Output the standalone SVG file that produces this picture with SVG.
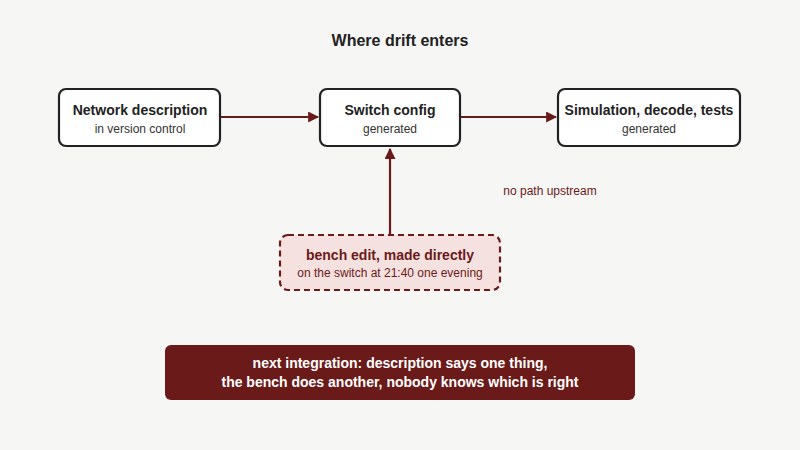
<svg xmlns="http://www.w3.org/2000/svg" width="800" height="450" viewBox="0 0 800 450">
<style>
.n{fill:#fff;stroke:#222;stroke-width:2.2}
.t{font-family:"Liberation Sans",Arial,sans-serif;text-anchor:middle}
.b{font-weight:bold;font-size:14px;fill:#222}
.s{font-size:12px;fill:#333}
.c{stroke:#6b1a1a;stroke-width:2.2;fill:none}
</style>
<defs><marker id="a" viewBox="0 0 10 10" refX="9" refY="5" markerWidth="5" markerHeight="5" orient="auto"><path d="M0,0L10,5L0,10z" fill="#6b1a1a"/></marker></defs>
<rect width="800" height="450" fill="#f6f6f5"/>
<text class="t" x="400" y="46" font-size="16" font-weight="bold" fill="#222">Where drift enters</text>
<g id="connectors">
<path class="c" d="M221,117H318" marker-end="url(#a)"/>
<path class="c" d="M461,117H556" marker-end="url(#a)"/>
<path class="c" d="M390,234V149" marker-end="url(#a)"/>
</g>
<g id="network"><rect class="n" x="59" y="89" width="161" height="57" rx="7"/>
<text class="t b" x="140" y="115">Network description</text><text class="t s" x="140" y="133">in version control</text></g>
<g id="switch"><rect class="n" x="320" y="89" width="140" height="57" rx="7"/>
<text class="t b" x="390" y="115">Switch config</text><text class="t s" x="390" y="133">generated</text></g>
<g id="sim"><rect class="n" x="558" y="89" width="182" height="57" rx="7"/>
<text class="t b" x="649" y="115">Simulation, decode, tests</text><text class="t s" x="649" y="133">generated</text></g>
<text class="t" x="550" y="195" font-size="12" fill="#6b1a1a">no path upstream</text>
<g id="bench"><rect x="280" y="235" width="220" height="55" rx="8" fill="#f5e1df" stroke="#6b1a1a" stroke-width="2.2" stroke-dasharray="6,4"/>
<text class="t" x="390" y="260" font-size="14" font-weight="bold" fill="#6b1a1a">bench edit, made directly</text>
<text class="t" x="390" y="277" font-size="12" fill="#6b1a1a">on the switch at 21:40 one evening</text></g>
<g id="outcome"><rect x="165" y="345" width="470" height="55" rx="6" fill="#6b1a1a"/>
<text class="t" x="400" y="368" font-size="14" font-weight="bold" fill="#fff">next integration: description says one thing,</text>
<text class="t" x="400" y="387" font-size="14" font-weight="bold" fill="#fff">the bench does another, nobody knows which is right</text></g>
</svg>
